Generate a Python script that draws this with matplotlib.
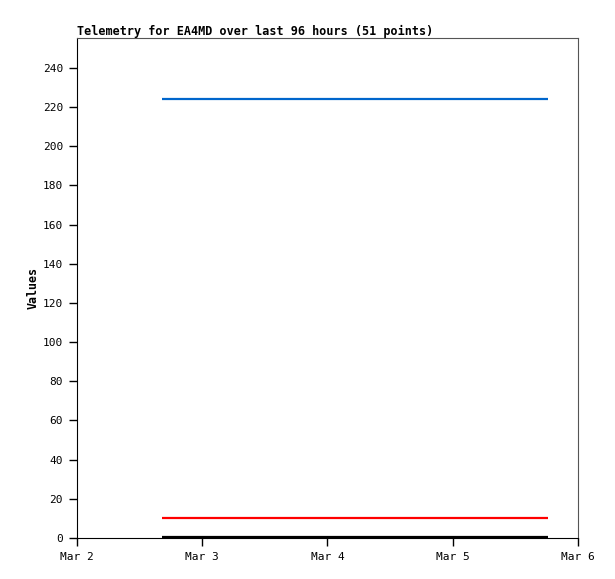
import matplotlib
matplotlib.use("Agg")
import matplotlib.pyplot as plt
import matplotlib.dates as mdates
import pandas as pd

times = pd.to_datetime(["2024-03-02 16:15", "2024-03-05 18:15"])
series_blue = [224.2, 224.2]
series_red = [10.0, 10.0]
series_black = [0.5, 0.5]
xticks = pd.to_datetime(["2024-03-02", "2024-03-03", "2024-03-04", "2024-03-05", "2024-03-06"])
xticklabels = ["Mar 2", "Mar 3", "Mar 4", "Mar 5", "Mar 6"]
yticks = list(range(0, 241, 20))

plt.rcParams['font.family'] = ['DejaVu Sans Mono']
fig = plt.figure(figsize=(6.15, 5.79), dpi=100)
ax = fig.add_axes([0.1252, 0.0708, 0.8146, 0.8636])

ax.plot(times, series_blue, color="#0066cc", lw=1.6, solid_capstyle="butt")
ax.plot(times, series_red, color="#ff0000", lw=1.6, solid_capstyle="butt")
ax.plot(times, series_black, color="#000000", lw=1.6, solid_capstyle="butt")

ax.set_xlim(xticks[0], xticks[-1])
ax.set_ylim(0, 255.3)
ax.set_xticks(xticks)
ax.set_xticklabels(xticklabels)
ax.set_yticks(yticks)
ax.tick_params(axis="both", direction="out", length=6, width=1, labelsize=8, color="black")
ax.tick_params(axis="x", pad=4)
ax.tick_params(axis="y", pad=4)
for s in ["top", "right"]:
    ax.spines[s].set_color("#555555")
for s in ["left", "bottom"]:
    ax.spines[s].set_color("black")

ax.set_ylabel("Values", fontsize=8.4, fontweight="bold", labelpad=2)
ax.set_title("Telemetry for EA4MD over last 96 hours (51 points)", loc="left",
             fontsize=8.45, fontweight="bold", pad=2)

fig.savefig("out.png", dpi=100)
